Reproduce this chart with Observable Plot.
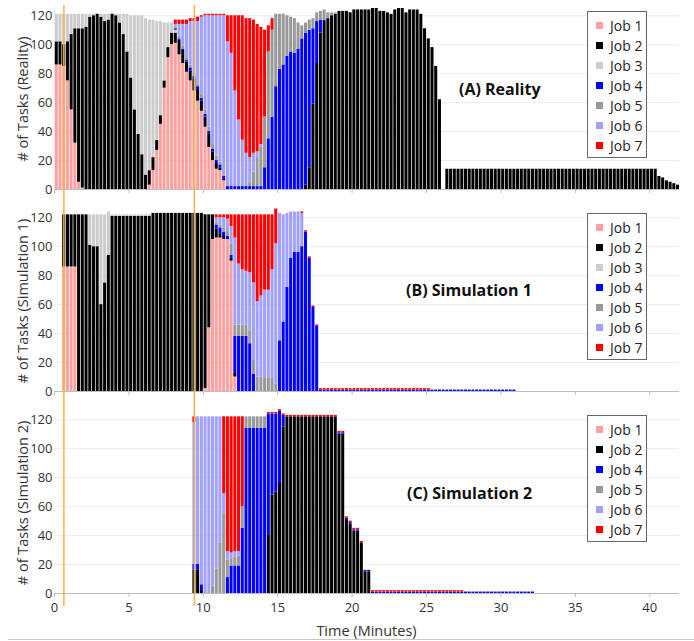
<!DOCTYPE html>
<html>
<head>
<meta charset="utf-8">
<script src="https://cdn.jsdelivr.net/npm/d3@7"></script>
<script src="https://cdn.jsdelivr.net/npm/@observablehq/plot@0.6"></script>
<style>
  body { margin: 0; background: #fff; font-family: 'Open Sans', sans-serif; }
  #fig { position: relative; width: 694px; height: 641px; overflow: hidden; background: #fff; }
  .panel { position: absolute; left: 0; }
  .panel svg { display: block; }
  .ylab { position: absolute; left: 22px; transform: translate(-50%, -50%) rotate(-90deg); white-space: nowrap; font-size: 14.5px; color: #333; }
  .xlab { position: absolute; left: 366.5px; top: 630px; transform: translate(-50%, -50%); white-space: nowrap; font-size: 14.5px; color: #333; }
  .title { position: absolute; transform: translateY(-50%); font-weight: 700; font-size: 16px; color: #111; white-space: nowrap; }
  .legend { position: absolute; left: 587px; width: 58px; border: 1px solid #666; background: #fff; padding: 3.5px 0 1.5px; }
  .legend div { position: relative; height: 20px; line-height: 20px; font-size: 14px; color: #222; padding-left: 22px; white-space: nowrap; }
  .legend span { position: absolute; left: 8px; top: 6.5px; width: 7px; height: 7px; }
  .bottomline { position: absolute; left: 8px; right: 0; top: 639px; height: 1px; background: #c8c8c8; }
</style>
</head>
<body>
<div id="fig"></div>
<script>
// ---------- categories, styles ----------
const jobNames = ["Job 1", "Job 2", "Job 3", "Job 4", "Job 5", "Job 6", "Job 7"];
const jobColors = ["#ffa0a0", "#000000", "#cccccc", "#0000ff", "#999999", "#a0a0ff", "#ff0000"];
const xTicks = [0, 5, 10, 15, 20, 25, 30, 35, 40];
const yTicks = [0, 20, 40, 60, 80, 100, 120];
const markerTimes = [0.63, 9.4];           // orange event lines (minutes)
const binStart = 0.05, binWidth = 0.25;   // sampling grid (minutes)

// ---------- (A) Reality: tasks per job per time bin ----------
const realityJob1 = [86,86,85,75,55,32,5,1,0,0, 0,0,0,0,0,0,0,0,0,0, 0,0,0,0,0,3,13,27,45,70,
  91,100,101,93,87,81,75,68,61,54, 43,29,20,14,13,6];
const realityJob2 = [16,16,15,27,52,79,106,110,112,119, 120,121,119,116,117,121,120,115,107,95,
  77,55,38,24,10,10,9,7,6,5, 7,8,7,10,9,7,7,8,8,7, 7,9,6,4,2,1,0,0,0,0,
  0,0,0,0,0,0,0,0,0,0, 0,0,0,0,0,0,0,3,15,59, 87,108,116,118,120,121,123,123,123,122,
  124,124,124,124,124,125,125,123,123,122, 121,124,125,125,122,124,124,124,121,111,
  104,98,85,62,0,14,14,14,14,14, 14,14,14,14,14,14,14,14,14,14, 14,14,14,14,14,14,14,14,14,14,
  14,14,14,14,14,14,14,14,14,14, 14,14,14,14,14,14,14,14,14,14, 14,14,14,14,14,14,14,14,14,14,
  14,14,9,8,6,5,4,3];
const realityJob3 = [19,19,21,19,14,10,10,10,9,2, 1,0,2,5,4,1,1,6,14,26, 43,65,82,96,108,104,95,82,65,40, 17,7,2];
const realityJob4 = [0,0,0,0,0,0,0,0,0,0, 0,0,0,0,0,0,0,0,0,0, 0,0,0,0,0,0,0,0,0,0, 0,0,
  1,1,1,1,2,2,2,2,2,2, 2,2,2,2,2,2,2,2,2,2, 2,2,2,2,15,35,50,71,83,86, 92,95,94,97,104,105,95,52,29,9, 1];
const realityJob5 = [0,0,0,0,0,0,0,0,0,0, 0,0,0,0,0,0,0,0,0,0, 0,0,0,0,0,0,0,0,0,0, 0,0,
  1,2,2,2,2,2,2,3,3,3, 3,3,2,1,0,0,0,0,0,0, 3,10,20,27,35,60,60,50,38,35, 28,24,24,18,9,7,7,7,6,6, 7,4,2,1];
const realityJob6 = [0,0,0,0,0,0,0,0,0,0, 0,0,0,0,0,0,0,0,0,0, 0,0,0,0,0,0,0,0,0,0, 0,0,
  2,8,15,23,30,36,43,53,65,77, 89,97,101,110,100,92,66,46,32,23, 17,13,4,2];
const realityJob7 = [0,0,0,0,0,0,0,0,0,0, 0,0,0,0,0,0,0,0,0,0, 0,0,0,0,0,0,0,0,0,0, 0,0,
  3,3,3,3,2,2,3,1,1,1, 1,1,1,1,18,26,52,72,86,93, 96,92,88,81,60,18,8];

// ---------- (B) Simulation 1 ----------
const sim1Job1 = [0,0,86,86,86,86,0,0,0,0, 0,0,0,0,0,0,0,0,0,0, 0,0,0,0,0,0,0,0,0,0, 0,0,0,0,0,0,0,0,0,0,
  2,44,105,106,106,105,105,90,10];
const sim1Job2 = [0,0,36,36,36,36,122,122,122,101, 100,100,60,75,94,121,121,121,121,121,
  121,121,121,121,121,121,123,123,123,123, 123,123,123,123,123,123,123,123,123,123, 120,78,17,6,3,2,0,2,3];
const sim1Job3 = [0,0,0,0,0,0,0,0,0,21, 22,22,62,47,30,1,1,1,1,1, 1,1,1,1,1,1];
const sim1Job4 = [0,0,0,0,0,0,0,0,0,0, 0,0,0,0,0,0,0,0,0,0, 0,0,0,0,0,0,0,0,0,0, 0,0,0,0,0,0,0,0,0,0,
  0,0,0,3,4,3,2,2,25,38, 38,38,33,12,0,0,0,0,0,0, 35,48,72,92,96,96,100,110,92,58, 45,
  1,1,1,1,1,1,1,1,1, 1,1,1,1,1,1,1,1,1,1, 1,1,1,1,1,1,1,1,1,1, 1,1,1,1,1,1,1,1,1,1, 1,1,1,1,1,1,1,1,1,1, 1,1,1,1];
const sim1Job5 = [0,0,0,0,0,0,0,0,0,0, 0,0,0,0,0,0,0,0,0,0, 0,0,0,0,0,0,0,0,0,0, 0,0,0,0,0,0,0,0,0,0,
  0,0,0,2,2,3,4,8,8,8, 8,8,9,10,10,10,9,9,9,5];
const sim1Job6 = [0,0,0,0,0,0,0,0,0,0, 0,0,0,0,0,0,0,0,0,0, 0,0,0,0,0,0,0,0,0,0, 0,0,0,0,0,0,0,0,0,0,
  0,0,0,3,5,7,8,12,60,42, 38,37,40,53,52,56,61,61,75,97, 88,74,51,32,28,28,23];
const sim1Job7 = [0,0,0,0,0,0,0,0,0,0, 0,0,0,0,0,0,0,0,0,0, 0,0,0,0,0,0,0,0,0,0, 0,0,0,0,0,0,0,0,0,0,
  0,0,0,2,2,2,3,8,16,34, 38,39,40,47,60,56,52,52,38,24, 0,0,0,0,0,0,1,1,1,1, 1,
  1,1,1,1,1,1,1,1,1, 1,1,1,1,1,1,1,1,1,1, 1,1,1,1,1,1,1,1,1,1, 1];

// ---------- (C) Simulation 2 ----------
const sim2Job2 = [0,0,0,0,0,0,0,0,0,0, 0,0,0,0,0,0,0,0,0,0, 0,0,0,0,0,0,0,0,0,0,
  0,0,0,0,0,0,0,16,16,2, 0,0,0,0,0,0,0,0,0,0, 0,0,0,0,0,0,0,40,68,70,
  76,115,122,122,122,122,122,122,122,122, 122,122,122,122,122,122,110,110,51,48, 43,43,35,15,15];
const sim2Job4 = [0,0,0,0,0,0,0,0,0,0, 0,0,0,0,0,0,0,0,0,0, 0,0,0,0,0,0,0,0,0,0,
  0,0,0,0,0,0,0,4,4,4, 0,0,0,0,0,0,11,19,19,19, 45,114,114,114,114,114,114,84,56,54,
  50,8,0,0,0,0,0,0,0,0, 0,0,0,0,0,0,1,1,1,1, 1,1,0,1,1,1,1,1,1,1,
  1,1,1,1,1,1,1,1,1,1, 1,1,1,1,1,1,1,1,1,1, 1,1,1,1,1,1,1,1,1,1, 1,1,1,1,1,1,1,1,1];
const sim2Job5 = [0,0,0,0,0,0,0,0,0,0, 0,0,0,0,0,0,0,0,0,0, 0,0,0,0,0,0,0,0,0,0,
  0,0,0,0,0,0,0,0,0,0, 0,0,5,17,35,55,12,5,6,7, 15,8,8,8,8,8,8];
const sim2Job6 = [0,0,0,0,0,0,0,0,0,0, 0,0,0,0,0,0,0,0,0,0, 0,0,0,0,0,0,0,0,0,0,
  0,0,0,0,0,0,0,98,102,116, 122,122,117,105,87,14,6,4,4,3];
const sim2Job7 = [0,0,0,0,0,0,0,0,0,0, 0,0,0,0,0,0,0,0,0,0, 0,0,0,0,0,0,0,0,0,0,
  0,0,0,0,0,0,0,4,0,0, 0,0,0,0,0,53,93,94,93,93, 62,0,0,0,0,0,0,1,1,1,
  1,1,1,1,1,1,1,1,1,1, 1,1,1,1,1,1,1,1,1,1, 1,1,1,0,0,1,1,1,1,1,
  1,1,1,1,1,1,1,1,1,1, 1,1,1,1,1,1,1,1,1,1];

// ---------- build stacked tables ----------
function stackBins(seriesList) {
  const rows = [];
  const n = d3.max(seriesList, s => s.values.length);
  for (let i = 0; i < n; i++) {
    let base = 0;
    for (const s of seriesList) {
      const v = s.values[i] || 0;
      if (v > 0) {
        rows.push({t1: binStart + i * binWidth, t2: binStart + (i + 1) * binWidth, y1: base, y2: base + v, job: s.job});
        base += v;
      }
    }
  }
  return rows;
}

const panels = [
  {
    top: 0, height: 202, marginBottom: 13, xLabels: false, ruleTop: 3, ruleBottom: 13,
    ylabel: "# of Tasks (Reality)", title: "(A) Reality", titleLeft: 459, titleY: 89,
    legend: jobNames,
    series: [realityJob1, realityJob2, realityJob3, realityJob4, realityJob5, realityJob6, realityJob7]
      .map((values, k) => ({job: jobNames[k], values}))
  },
  {
    top: 202, height: 202, marginBottom: 13, xLabels: false, ruleTop: 8, ruleBottom: 13,
    ylabel: "# of Tasks (Simulation 1)", title: "(B) Simulation 1", titleLeft: 406, titleY: 290,
    legend: jobNames,
    series: [sim1Job1, sim1Job2, sim1Job3, sim1Job4, sim1Job5, sim1Job6, sim1Job7]
      .map((values, k) => ({job: jobNames[k], values}))
  },
  {
    top: 404, height: 237, marginBottom: 48, xLabels: true, ruleTop: 8, ruleBottom: 13,
    ylabel: "# of Tasks (Simulation 2)", title: "(C) Simulation 2", titleLeft: 407, titleY: 493,
    legend: ["Job 1", "Job 2", "Job 4", "Job 5", "Job 6", "Job 7"],
    series: [[], sim2Job2, [], sim2Job4, sim2Job5, sim2Job6, sim2Job7]
      .map((values, k) => ({job: jobNames[k], values}))
  }
];

const fig = document.getElementById("fig");
const axisColor = "#bdbdbd";

for (const p of panels) {
  const rows = stackBins(p.series);
  const marks = [
    Plot.ruleY(yTicks.filter(d => d > 0), {stroke: "#ececec"}),
    Plot.rect(rows, {x1: "t1", x2: "t2", y1: "y1", y2: "y2", fill: "job", insetRight: 0.7}),
    Plot.ruleY([0], {stroke: axisColor}),
    Plot.ruleX(xTicks, {y1: 0, y2: 0, insetBottom: -4, stroke: axisColor}),
    Plot.text(yTicks, {y: d => d, text: d => String(d), frameAnchor: "left", textAnchor: "end", dx: -2, fill: "#333", fontSize: 13}),
    Plot.ruleX(markerTimes, {stroke: "#f6b24a", strokeWidth: 1.5, insetTop: -p.ruleTop, insetBottom: -p.ruleBottom})
  ];
  if (p.xLabels) {
    marks.push(Plot.text(xTicks, {x: d => d, y: 0, dy: 14, text: d => String(d), fill: "#333", fontSize: 13}));
  }
  const svg = Plot.plot({
    width: 694, height: p.height,
    marginLeft: 54, marginRight: 15, marginTop: 8, marginBottom: p.marginBottom,
    style: {fontFamily: "'Open Sans', sans-serif", fontSize: "13px", background: "transparent", overflow: "visible"},
    x: {domain: [0, 42], axis: null},
    y: {domain: [0, 125], axis: null},
    color: {domain: jobNames, range: jobColors},
    marks
  });
  const wrap = document.createElement("div");
  wrap.className = "panel";
  wrap.style.top = p.top + "px";
  wrap.appendChild(svg);
  fig.appendChild(wrap);

  const yl = document.createElement("div");
  yl.className = "ylab";
  yl.style.top = (p.top + 98.5) + "px";
  yl.textContent = p.ylabel;
  fig.appendChild(yl);

  const tt = document.createElement("div");
  tt.className = "title";
  tt.style.left = p.titleLeft + "px";
  tt.style.top = p.titleY + "px";
  tt.textContent = p.title;
  fig.appendChild(tt);

  const lg = document.createElement("div");
  lg.className = "legend";
  lg.style.top = (p.top + 11) + "px";
  for (const name of p.legend) {
    const item = document.createElement("div");
    const sw = document.createElement("span");
    sw.style.background = jobColors[jobNames.indexOf(name)];
    item.appendChild(sw);
    item.appendChild(document.createTextNode(name));
    lg.appendChild(item);
  }
  fig.appendChild(lg);
}

const xl = document.createElement("div");
xl.className = "xlab";
xl.textContent = "Time (Minutes)";
fig.appendChild(xl);

const bl = document.createElement("div");
bl.className = "bottomline";
fig.appendChild(bl);
</script>
</body>
</html>
